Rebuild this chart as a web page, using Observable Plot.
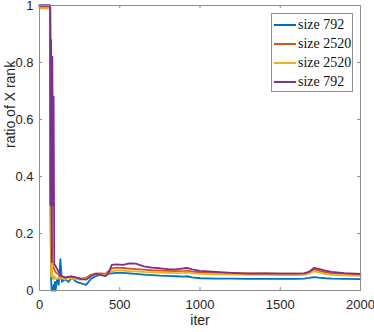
<!DOCTYPE html>
<html>
<head>
<meta charset="utf-8">
<script src="https://cdn.jsdelivr.net/npm/d3@7"></script>
<script src="https://cdn.jsdelivr.net/npm/@observablehq/plot@0.6"></script>
<style>
  html, body { margin: 0; padding: 0; background: #fff; }
  #wrap { position: relative; width: 374px; height: 332px; }
  #legend { position: absolute; left: 271px; top: 13px; width: 80px; height: 77px;
    border: 1px solid #8f8f8f; background: #fff; box-sizing: content-box;
    font-family: "Liberation Serif", "DejaVu Serif", serif; font-size: 14px; color: #111; }
  .entry { position: absolute; left: 2px; height: 18px; display: flex; align-items: center; white-space: nowrap; }
  .swatch { width: 22px; height: 0; border-top: 2px solid; margin-right: 2px; flex: none; }
</style>
</head>
<body>
<div id="wrap"><div id="chart"></div><div id="legend"></div></div>
<script>
const seriesNames = ["size 792", "size 2520", "size 2520", "size 792"];
const seriesColors = ["#0072BD", "#D95319", "#EDB120", "#7E2F8E"];
const xTicks = [0, 500, 1000, 1500, 2000];
const yTicks = [0, 0.2, 0.4, 0.6, 0.8, 1];

const iters = [0, 60, 66, 68, 72, 76, 80, 84, 88, 92, 96, 100, 110, 120, 130, 140, 160, 180, 200, 230, 260, 290, 320, 350, 380, 410, 430, 450, 480, 520, 560, 600, 650, 700, 750, 800, 850, 900, 920, 950, 1000, 1100, 1200, 1300, 1400, 1500, 1600, 1650, 1680, 1710, 1740, 1780, 1820, 1900, 2000];

const blue792 = [1, 1, 1, 0.3, 0.04, 0.0, 0.01, 0.0, 0.02, 0.0, 0.03, 0.0, 0.04, 0.02, 0.11, 0.03, 0.04, 0.03, 0.045, 0.03, 0.025, 0.02, 0.04, 0.05, 0.055, 0.055, 0.058, 0.06, 0.062, 0.062, 0.06, 0.058, 0.056, 0.054, 0.052, 0.051, 0.05, 0.049, 0.05, 0.046, 0.043, 0.042, 0.042, 0.041, 0.041, 0.041, 0.041, 0.042, 0.044, 0.047, 0.045, 0.043, 0.042, 0.041, 0.040];

const orange2520 = [0.995, 0.995, 0.995, 0.99, 0.6, 0.2, 0.09, 0.08, 0.08, 0.075, 0.07, 0.065, 0.06, 0.055, 0.05, 0.05, 0.045, 0.048, 0.045, 0.045, 0.042, 0.045, 0.055, 0.06, 0.06, 0.058, 0.068, 0.078, 0.08, 0.079, 0.077, 0.075, 0.073, 0.071, 0.07, 0.069, 0.068, 0.069, 0.07, 0.066, 0.064, 0.062, 0.061, 0.06, 0.06, 0.059, 0.059, 0.06, 0.064, 0.074, 0.07, 0.064, 0.06, 0.058, 0.056];

const yellow2520 = [0.99, 0.99, 0.99, 0.5, 0.05, 0.12, 0.06, 0.04, 0.045, 0.05, 0.04, 0.045, 0.04, 0.045, 0.04, 0.045, 0.04, 0.045, 0.042, 0.04, 0.038, 0.042, 0.05, 0.058, 0.055, 0.055, 0.06, 0.068, 0.07, 0.07, 0.068, 0.067, 0.065, 0.064, 0.063, 0.062, 0.061, 0.062, 0.063, 0.06, 0.058, 0.057, 0.056, 0.055, 0.055, 0.054, 0.054, 0.055, 0.059, 0.068, 0.064, 0.058, 0.055, 0.053, 0.051];

const purple792 = [1, 1, 1, 0.3, 0.88, 0.1, 0.82, 0.3, 0.68, 0.09, 0.09, 0.085, 0.075, 0.065, 0.055, 0.05, 0.045, 0.048, 0.05, 0.045, 0.04, 0.038, 0.05, 0.058, 0.055, 0.05, 0.06, 0.09, 0.092, 0.09, 0.095, 0.094, 0.085, 0.08, 0.078, 0.075, 0.074, 0.078, 0.079, 0.074, 0.069, 0.065, 0.062, 0.059, 0.06, 0.059, 0.059, 0.06, 0.066, 0.079, 0.076, 0.07, 0.065, 0.061, 0.058];

const seriesValues = [blue792, orange2520, yellow2520, purple792];

const W = 374, H = 332, mL = 39, mR = 14, mT = 5, mB = 42;
const PH = H - mT - mB, PW = W - mL - mR;
const axisColor = "#8f8f8f";
const textColor = "#262626";

const lineMarks = seriesValues.map((vals, s) =>
  Plot.line(iters.map((it, i) => ({iter: it, v: vals[i]})),
    {x: "iter", y: "v", stroke: seriesColors[s], strokeWidth: 1.8, curve: "linear"})
);

const chart = Plot.plot({
  width: W, height: H,
  marginLeft: mL, marginRight: mR, marginTop: mT, marginBottom: mB,
  style: {fontFamily: "'Liberation Sans', Arial, sans-serif", fontSize: "13px", color: textColor, background: "#fff", overflow: "visible"},
  x: {domain: [0, 2000]},
  y: {domain: [0, 1]},
  marks: [
    ...lineMarks,
    Plot.frame({stroke: axisColor}),
    Plot.tickX(xTicks, {x: d => d, stroke: axisColor, insetTop: PH - 3}),
    Plot.tickX(xTicks, {x: d => d, stroke: axisColor, insetBottom: PH - 3}),
    Plot.tickY(yTicks, {y: d => d, stroke: axisColor, insetRight: PW - 3}),
    Plot.tickY(yTicks, {y: d => d, stroke: axisColor, insetLeft: PW - 3}),
    Plot.axisX(xTicks, {tickSize: 0, tickPadding: 9, fill: textColor, fontSize: 13, tickFormat: d => String(d), label: null}),
    Plot.axisY(yTicks, {tickSize: 0, tickPadding: 6, fill: textColor, fontSize: 13, tickFormat: d => String(d), label: null}),
    Plot.text(["iter"], {frameAnchor: "bottom", dy: 34, fontSize: 14, fill: textColor}),
    Plot.text(["ratio of X rank"], {frameAnchor: "left", dx: -29, rotate: -90, fontSize: 14, fill: textColor})
  ]
});
document.getElementById("chart").appendChild(chart);

const legend = document.getElementById("legend");
seriesNames.forEach((name, i) => {
  const e = document.createElement("div");
  e.className = "entry";
  e.style.top = (2 + i * 19) + "px";
  const sw = document.createElement("span");
  sw.className = "swatch";
  sw.style.borderTopColor = seriesColors[i];
  const t = document.createElement("span");
  t.textContent = name;
  e.appendChild(sw); e.appendChild(t);
  legend.appendChild(e);
});
</script>
</body>
</html>
